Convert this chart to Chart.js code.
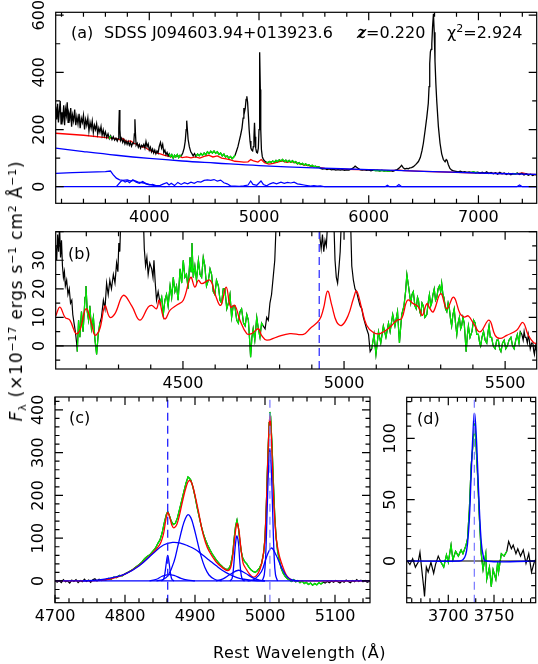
<!DOCTYPE html>
<html>
<head>
<meta charset="utf-8">
<script src="https://cdn.jsdelivr.net/npm/chart.js@4.4.1/dist/chart.umd.min.js"></script>
<style>
  body { margin: 0; background: #fff; }
  #wrap { position: relative; width: 538px; height: 664px; overflow: hidden; font-family: 'DejaVu Sans', sans-serif; }
  canvas { position: absolute; left: 0; top: 0; }
  .t { position: absolute; font-size: 16px; line-height: 16px; white-space: nowrap; color: #000; }
  .t sup { font-size: 11px; vertical-align: 6px; line-height: 0; }
  .t sub { font-size: 11px; vertical-align: -4px; line-height: 0; }
</style>
</head>
<body>
<div id="wrap">
  <canvas id="pa" width="538" height="664"></canvas>
  <canvas id="pb" width="538" height="664"></canvas>
  <canvas id="pc" width="538" height="664"></canvas>
  <canvas id="pd" width="538" height="664"></canvas>

  <div class="t" style="left:71px;top:25px;">(a)</div>
  <div class="t" style="left:104px;top:25px;">SDSS J094603.94+013923.6</div>
  <div class="t" style="left:357px;top:25px;"><b style="font-family:'DejaVu Serif';font-style:italic;">z</b>=0.220</div>
  <div class="t" style="left:447px;top:25px;">χ<sup>2</sup>=2.924</div>
  <div class="t" style="left:68px;top:246px;">(b)</div>
  <div class="t" style="left:69px;top:410px;">(c)</div>
  <div class="t" style="left:417px;top:411px;">(d)</div>
  <div class="t" style="left:16px;top:291px;font-size:17px;letter-spacing:0.8px;transform:translate(-50%,-50%) rotate(-90deg);"><i>F</i><sub>λ</sub> (×10<sup>−17</sup> ergs s<sup>−1</sup> cm<sup>2</sup> Å<sup>−1</sup>)</div>
  <div class="t" style="left:213px;top:645px;letter-spacing:0.5px;">Rest Wavelength (Å)</div>
</div>

<script>
// ---- panel (a) : full spectrum ----
const aBlack = [
  [3147,280],[3156,235],[3164,290],[3172,225],[3180,265],[3188,300],[3196,220],[3204,260],[3212,240],[3220,285],
  [3228,215],[3236,270],[3244,250],[3252,295],[3260,225],[3268,255],[3276,240],[3284,275],[3292,210],[3300,250],
  [3310,230],[3320,270],[3330,215],[3340,245],[3350,220],[3360,255],[3370,205],[3380,240],[3390,225],[3400,250],
  [3410,200],[3420,235],[3430,215],[3440,240],[3450,195],[3460,225],[3470,205],[3480,230],[3490,190],[3500,215],
  [3510,200],[3520,220],[3530,185],[3540,205],[3550,190],[3560,210],[3570,180],[3580,198],[3590,178],[3600,192],
  [3612,172],[3624,185],[3636,168],[3648,178],[3660,165],[3672,175],[3684,163],[3696,170],[3708,160],[3716,168],
  [3722,205],[3727,268],[3732,200],[3738,162],[3748,170],[3758,155],[3768,165],[3778,150],[3788,160],[3798,148],
  [3808,158],[3818,145],[3828,155],[3838,142],[3848,152],[3858,150],[3864,185],[3869,236],[3874,185],[3880,145],
  [3890,152],[3900,138],[3910,148],[3920,135],[3930,145],[3940,140],[3950,148],[3960,135],[3970,158],[3980,140],
  [3990,150],[4000,128],[4010,138],[4020,122],[4030,132],[4040,118],[4050,128],[4060,115],[4070,125],[4080,118],
  [4090,140],[4102,155],[4112,135],[4122,148],[4132,120],[4142,128],[4152,112],[4162,120],[4172,108],[4182,115],
  [4192,105],[4205,112],[4218,100],[4230,110],[4242,104],[4255,112],[4268,102],[4280,110],[4292,108],[4305,118],
  [4318,135],[4328,160],[4336,200],[4341,231],[4346,205],[4354,165],[4365,140],[4378,122],[4390,115],[4400,108],
  [4412,116],[4425,106],[4440,114],[4455,108],[4470,116],[4485,110],[4500,118],[4515,112],[4530,122],[4545,116],
  [4560,124],[4575,118],[4590,125],[4605,117],[4620,122],[4635,113],[4650,118],[4665,108],[4680,114],[4695,104],
  [4710,108],[4725,100],[4740,106],[4755,98],[4770,104],[4782,110],[4795,125],[4808,140],[4820,160],[4832,180],
  [4845,205],[4855,240],[4862,275],[4868,262],[4875,275],[4882,305],[4889,316],[4896,295],[4903,250],[4910,200],
  [4918,160],[4926,135],[4934,128],[4942,125],[4948,140],[4954,175],[4959,224],[4964,175],[4970,135],[4978,120],
  [4986,118],[4994,135],[5000,200],[5004,330],[5008,470],[5012,340],[5016,200],[5022,130],[5030,105],[5040,95],
  [5052,90],[5065,86],[5080,84],[5095,88],[5110,85],[5125,90],[5140,86],[5155,92],[5170,88],[5185,94],
  [5200,90],[5215,95],[5230,88],[5245,93],[5260,87],[5275,92],[5290,86],[5305,91],[5320,84],[5335,88],
  [5350,80],[5365,84],[5380,78],[5395,82],[5410,76],[5425,80],[5440,74],[5455,77],[5470,72],[5485,75],
  [5500,70],[5515,72],[5530,68],[5545,70],[5560,64],[5580,62],[5600,63],[5620,60],[5640,62],[5660,59],
  [5680,61],[5700,58],[5720,60],[5740,58],[5760,60],[5780,57],[5800,59],[5820,58],[5840,62],[5860,66],
  [5876,72],[5890,68],[5905,64],[5920,60],[5940,58],[5960,60],[5980,57],[6000,59],[6020,56],[6040,58],
  [6060,56],[6080,57],[6100,55],[6120,57],[6140,55],[6160,56],[6180,54],[6200,56],[6220,54],[6240,57],
  [6260,60],[6280,66],[6300,75],[6315,66],[6330,62],[6345,64],[6360,63],[6375,66],[6390,67],[6407,70],
  [6430,78],[6453,88],[6470,102],[6485,125],[6498,152],[6515,200],[6530,245],[6543,292],[6550,350],[6556,430],
  [6562,472],[6568,480],[6575,500],[6582,560],[6590,605],[6597,540],[6604,440],[6612,360],[6620,300],[6635,210],
  [6650,152],[6665,115],[6680,95],[6696,87],[6706,95],[6714,92],[6725,78],[6740,64],[6757,58],[6775,55],
  [6795,54],[6815,52],[6835,54],[6855,51],[6875,53],[6895,50],[6915,52],[6935,50],[6955,52],[6975,49],
  [6995,51],[7015,48],[7035,51],[7055,47],[7075,52],[7095,46],[7115,50],[7135,45],[7155,49],[7175,44],
  [7195,50],[7215,45],[7235,48],[7255,43],[7275,47],[7295,42],[7315,46],[7335,44],[7355,48],[7375,43],
  [7395,47],[7415,41],[7435,45],[7455,40],[7475,44],[7495,39],[7515,43],[7531,40]
];
const aGreenWin = [[3625,3655],[4175,4300],[4425,4790],[5060,5570],[6040,6200],[6920,7010],[7300,7370]];
const aModel = [
  [3147,187],[3400,180],[3650,170],[3700,168],[3740,163],[3760,168],[3790,158],[3830,160],[3860,152],[3890,148],
  [3920,140],[3960,138],[3990,130],[4020,125],[4060,118],[4100,115],[4140,110],[4180,106],[4220,104],[4260,108],
  [4300,102],[4340,104],[4380,101],[4420,104],[4460,100],[4500,106],[4540,110],[4580,104],[4620,108],[4660,100],
  [4700,97],[4740,94],[4780,89],[4820,88],[4860,86],[4900,87],[4925,95],[4950,90],[4990,86],[5020,95],
  [5050,84],[5090,79],[5130,82],[5170,86],[5210,90],[5250,85],[5290,88],[5330,84],[5370,80],[5410,76],
  [5450,74],[5500,70],[5550,68],[5600,64],[5800,61],[6000,59],[6200,56],[6280,58],[6320,56],[6500,54],
  [7000,48],[7350,45],[7400,48],[7450,44],[7531,42]
];
const aPowerLaw = [[3147,135],[3400,123],[3700,110],[4000,99],[4300,90],[4600,83],[5000,74],[5500,66],[6000,60],[6500,54],[7000,48],[7531,43]];
const aBalmer = [[3147,47],[3300,49],[3450,51],[3600,53],[3646,55],[3670,42],[3700,30],[3730,24],[3760,22],[3800,24],[3830,20],[3860,22],[3900,16],[3950,13],[4000,8],[4050,4],[4100,1],[4150,0]];
const aFeII = [
  [3700,0],[3740,18],[3760,22],[3780,16],[3800,20],[3820,14],[3850,24],[3880,16],[3910,12],[3940,18],
  [3970,10],[4000,6],[4030,8],[4060,4],[4100,5],[4130,10],[4160,14],[4180,6],[4200,12],[4230,4],
  [4260,15],[4290,8],[4320,14],[4350,10],[4380,16],[4410,12],[4440,18],[4470,16],[4500,22],[4530,24],
  [4560,22],[4590,25],[4620,20],[4650,23],[4680,14],[4710,10],[4740,3],[4780,2],[4820,1],[4860,3],
  [4900,6],[4924,20],[4945,8],[4980,5],[5018,20],[5040,8],[5070,3],[5100,10],[5130,14],[5160,10],
  [5200,16],[5230,12],[5260,15],[5290,13],[5320,16],[5350,10],[5380,8],[5410,6],[5440,4],[5470,2],
  [5500,4],[5530,2],[5560,3],[5600,0],[6150,0],[6170,5],[6190,0],[6250,0],[6275,8],[6300,0],
  [7350,0],[7375,6],[7400,0],[7531,0]
];
const aTicksX = [4000, 5000, 6000, 7000];
const aTicksY = [0, 200, 400, 600];

// ---- panel (b) : Fe II region ----
const bBlack = [
  [4105,35],[4108,30],[4111,39],[4114,33],[4117,42],[4120,31],[4123,37],[4126,28],[4129,24],[4132,26],
  [4135,21],[4139,23],[4143,18],[4147,20],[4151,15],[4155,16],[4158,11],[4162,8],[4166,5],[4170,1],
  [4172,-2],[4176,9],[4180,3],[4185,12],[4190,5],[4196,17],[4199,21],[4203,12],[4207,9],[4211,14],
  [4216,6],[4222,10],[4227,2],[4232,-3],[4237,4],[4242,8],[4247,10],[4253,16],[4258,13],[4263,22],
  [4268,18],[4273,23],[4278,20],[4284,25],[4289,22],[4294,29],[4298,26],[4301,36],[4304,33],[4307,45],
  [4312,70],[4340,90],[4372,70],[4377,45],[4380,34],[4384,28],[4388,31],[4392,25],[4397,29],[4403,27],
  [4407,24],[4410,30],[4414,22],[4418,16],[4423,19],[4429,15],[4434,17],[4439,11],[4444,16],[4449,18],
  [4454,14],[4460,21],[4465,17],[4470,24],[4475,19],[4480,21],[4485,16],[4491,27],[4496,22],[4501,30],
  [4506,24],[4511,25],[4516,20],[4522,31],[4525,26],[4528,36],[4532,24],[4537,28],[4542,23],[4548,30],
  [4553,25],[4558,24],[4563,31],[4568,28],[4573,21],[4579,23],[4584,27],[4589,25],[4594,19],[4599,18],
  [4604,23],[4610,21],[4615,16],[4620,15],[4625,20],[4630,20],[4636,13],[4641,15],[4646,18],[4651,10],
  [4656,14],[4661,14],[4667,9],[4672,8],[4677,12],[4682,13],[4688,8],[4693,7],[4698,11],[4703,9],
  [4707,2],[4710,-4],[4714,3],[4718,6],[4723,2],[4729,10],[4734,6],[4739,3],[4744,8],[4749,7],
  [4755,6],[4760,10],[4765,9],[4770,15],[4775,18],[4780,24],[4785,30],[4789,42],[4795,70],[4920,60],
  [4925,38],[4929,34],[4933,39],[4937,33],[4941,37],[4945,35],[4950,45],[4968,45],[4972,30],[4976,24],
  [4980,22],[4984,27],[4988,33],[4992,45],[5020,45],[5024,28],[5029,23],[5034,20],[5039,19],[5045,16],
  [5050,14],[5055,13],[5060,10],[5065,8],[5070,6],[5076,4],[5081,-2],[5086,-1],[5093,4],[5099,-3],
  [5107,5],[5114,1],[5122,7],[5130,3],[5138,8],[5143,5],[5151,11],[5158,7],[5166,12],[5172,1],
  [5179,11],[5186,14],[5191,19],[5195,25],[5200,21],[5207,15],[5211,18],[5215,19],[5220,14],[5224,13],
  [5228,17],[5231,16],[5235,12],[5238,11],[5242,15],[5246,14],[5251,10],[5257,11],[5261,15],[5265,18],
  [5269,14],[5272,15],[5276,18],[5280,20],[5284,16],[5288,17],[5292,20],[5296,21],[5300,19],[5303,22],
  [5307,18],[5310,17],[5315,13],[5319,12],[5323,15],[5327,13],[5331,9],[5334,7],[5338,11],[5342,13],
  [5346,8],[5350,4],[5354,8],[5358,10],[5362,6],[5365,7],[5369,10],[5373,8],[5376,3],[5379,-2],
  [5383,4],[5386,7],[5391,3],[5397,5],[5402,9],[5407,8],[5412,4],[5417,4],[5421,1],[5424,0],
  [5428,3],[5433,5],[5438,2],[5443,1],[5447,5],[5450,7],[5454,3],[5458,3],[5463,0],[5469,-1],
  [5474,2],[5479,2],[5483,-1],[5487,-2],[5492,1],[5497,2],[5502,-1],[5507,0],[5512,2],[5518,3],
  [5523,0],[5528,-1],[5533,2],[5538,4],[5543,1],[5547,5],[5552,4],[5556,2],[5559,5],[5562,3],
  [5565,3],[5569,1],[5572,4],[5575,2],[5578,-1],[5582,1],[5586,1],[5589,-2],[5591,-3],[5594,0],[5598,-2]
];
const bGreenWin = [[4172,4243],[4424,4752],[5083,5549]];
const bFeII = [
  [4105,10.5],[4118,13.6],[4134,10],[4149,9],[4168,4.3],[4180,5.5],[4199,13],[4216,7.8],[4227,3.7],[4242,6],
  [4258,14],[4273,10],[4289,11.3],[4315,17.7],[4341,14],[4366,9],[4392,13.6],[4403,14.2],[4418,13],[4426,16],
  [4439,10],[4446,9.5],[4460,12.5],[4480,14.2],[4501,16],[4524,24],[4537,20.6],[4548,23],[4558,21.8],[4584,23],
  [4599,18.3],[4617,14.2],[4634,20.6],[4648,13.6],[4661,14.2],[4677,9],[4698,4.3],[4713,4.3],[4734,6],[4744,3.7],
  [4760,2],[4791,3.1],[4832,4.3],[4874,4],[4894,6],[4923,9],[4936,13],[4949,19.2],[4962,14.2],[4977,8.4],
  [4993,7.2],[5013,10.7],[5029,16.5],[5039,19.2],[5055,13],[5070,7.2],[5091,4.7],[5112,4.3],[5143,6.6],[5164,9],
  [5179,9.6],[5197,16],[5215,14.8],[5231,13.6],[5243,10.7],[5257,14.8],[5267,13],[5277,11.9],[5300,18.3],[5319,13],
  [5340,17.1],[5360,11.3],[5373,10.1],[5386,10.5],[5402,7.8],[5422,4.9],[5450,9],[5469,3.7],[5484,2.6],[5505,3.7],
  [5536,5.5],[5555,8.2],[5572,3.7],[5588,1.2],[5598,0.8]
];
const bMarker = 4923;
const bTicksX = [4500, 5000, 5500];
const bTicksY = [0, 10, 20, 30];

// ---- panel (c) : H-beta + [O III] ----
const cData = [
  [4700,2],[4703,-3],[4706,1],[4709,-4],[4712,3],[4715,-2],[4718,0],[4721,-5],[4724,2],[4727,-1],
  [4730,3],[4733,-4],[4736,1],[4739,-2],[4742,4],[4745,-1],[4748,2],[4751,-3],[4754,3],[4757,5],
  [4760,0],[4763,4],[4766,1],[4769,3],[4772,2],[4776,6],[4780,4],[4784,9],[4788,8],[4792,13],
  [4796,12],[4800,17],[4804,20],[4808,24],[4812,28],[4816,33],[4820,38],[4824,44],[4828,52],[4832,58],
  [4836,62],[4840,70],[4844,78],[4847,88],[4850,96],[4853,112],[4856,135],[4859,155],[4861,162],[4863,155],
  [4866,140],[4869,132],[4872,135],[4875,148],[4878,168],[4881,188],[4884,208],[4887,228],[4890,243],[4892,240],
  [4894,236],[4897,220],[4900,198],[4903,172],[4906,150],[4909,128],[4912,110],[4915,96],[4918,84],[4921,74],
  [4925,62],[4930,50],[4935,40],[4940,32],[4944,27],[4948,28],[4951,38],[4954,65],[4956,100],[4958,128],
  [4960,142],[4962,125],[4964,95],[4966,70],[4968,55],[4971,45],[4974,40],[4977,32],[4980,26],[4983,22],
  [4986,20],[4989,24],[4992,30],[4995,40],[4998,65],[5000,100],[5002,180],[5004,290],[5006,370],[5007,395],
  [5008,385],[5010,320],[5012,230],[5014,150],[5016,100],[5018,70],[5020,52],[5023,30],[5026,18],[5029,10],
  [5032,5],[5035,2],[5038,-1],[5041,3],[5044,-2],[5047,1],[5050,-4],[5053,0],[5056,-6],[5059,-3],
  [5062,-8],[5065,-5],[5068,-10],[5071,-6],[5074,-9],[5077,-4],[5080,-7],[5083,-3],[5086,-5],[5089,-1],
  [5092,-4],[5095,0],[5098,-3],[5101,1],[5104,-2],[5107,-5],[5110,0],[5113,-3],[5116,2],[5119,-1],
  [5122,-4],[5125,1],[5128,-2],[5131,3],[5134,-1],[5137,2],[5140,-2],[5143,1],[5146,-3],[5150,0]
];
const cGreenWin = [[4770,5085]];
const cTotal = [
  [4700,0],[4760,1],[4780,5],[4800,16],[4820,36],[4840,66],[4850,86],[4855,110],[4858,140],[4861,160],
  [4864,148],[4867,130],[4870,124],[4874,132],[4878,155],[4882,185],[4886,212],[4890,232],[4893,235],[4896,226],
  [4900,200],[4905,162],[4910,120],[4915,90],[4920,70],[4930,45],[4940,30],[4947,24],[4951,32],[4954,60],
  [4957,105],[4960,135],[4963,115],[4966,70],[4969,40],[4973,28],[4978,16],[4983,9],[4988,13],[4993,28],
  [4997,55],[5000,100],[5003,230],[5005,330],[5007,385],[5009,340],[5011,250],[5013,170],[5016,100],[5020,62],
  [5025,35],[5030,15],[5035,5],[5040,1],[5050,0],[5150,0]
];
const cBroadHb = [[4740,0],[4760,2],[4780,7],[4800,16],[4820,35],[4840,64],[4855,84],[4868,90],[4880,88],[4890,82],[4900,74],[4910,62],[4920,49],[4930,36],[4940,24],[4950,15],[4960,8],[4970,4],[4985,1],[5000,0]];
const cInterHb = [[4845,0],[4855,4],[4862,14],[4870,45],[4876,85],[4882,125],[4886,145],[4890,155],[4894,148],[4898,128],[4903,95],[4908,62],[4914,32],[4920,14],[4928,4],[4938,0]];
const cNarrowHb = [[4852,0],[4855,4],[4857,18],[4859,42],[4861,60],[4863,42],[4865,18],[4867,4],[4870,0]];
const cWingHb = [[4835,0],[4845,4],[4853,11],[4862,15],[4870,13],[4880,6],[4890,2],[4900,0]];
const cNarrow4959 = [[4950,0],[4953,6],[4955,30],[4957,72],[4959,102],[4960,105],[4962,90],[4964,45],[4966,14],[4968,3],[4971,0]];
const cBroad4959 = [[4930,0],[4940,5],[4950,15],[4962,25],[4972,18],[4982,8],[4992,2],[5000,0]];
const cNarrow5007 = [[4996,0],[4999,15],[5001,60],[5003,160],[5005,260],[5007,310],[5009,260],[5011,160],[5013,60],[5015,15],[5018,0]];
const cBroad5007 = [[4975,0],[4985,4],[4995,22],[5002,55],[5009,77],[5016,60],[5024,30],[5032,9],[5040,2],[5048,0]];
const cMarkers = [4861, 5007];
const cTicksX = [4700, 4800, 4900, 5000, 5100];
const cTicksY = [0, 100, 200, 300, 400];

// ---- panel (d) : [O II] ----
const dData = [
  [3655,0],[3658,-3],[3661,2],[3664,-5],[3667,-1],[3669,7],[3671,-7],[3673,-21],[3674,-29],[3676,-5],
  [3678,-9],[3681,-1],[3684,-10],[3686,-3],[3689,4],[3692,-1],[3695,-5],[3698,5],[3700,-1],[3703,13],
  [3705,1],[3708,8],[3711,4],[3714,9],[3716,6],[3719,12],[3721,18],[3723,42],[3725,78],[3727,95],
  [3728.5,112],[3730,100],[3732,70],[3734,35],[3736,6],[3738,-7],[3741,6],[3742,-15],[3745,-5],[3747,-21],
  [3749,-7],[3752,-15],[3754,-1],[3755,-9],[3758,6],[3761,4],[3764,8],[3766,16],[3769,10],[3771,13],
  [3774,6],[3776,10],[3779,4],[3782,9],[3785,-2],[3788,6],[3791,-9],[3794,-1],[3796,2]
];
const dGreenWin = [[3690,3765]];
const dOII = [[3655,0],[3712,0],[3716,1],[3719,5],[3721,14],[3723,34],[3725,70],[3727,104],[3728.5,120],[3730,110],[3732,78],[3734,42],[3736,16],[3738,5],[3741,0],[3796,0]];
const dMarker = 3728.5;
const dTicksX = [3700, 3750];
const dTicksY = [0, 50, 100];

// ---------- helpers ----------
function xy(pairs) {
  return pairs.map(p => ({ x: p[0], y: p[1] }));
}

// points of a spectrum that fall inside the fitting windows, gaps elsewhere
function windowed(pairs, wins) {
  const out = [];
  let prevIn = false;
  pairs.forEach(p => {
    const inside = wins.some(w => p[0] >= w[0] && p[0] <= w[1]);
    if (inside) out.push({ x: p[0], y: p[1] });
    else if (prevIn) out.push({ x: p[0], y: null });
    prevIn = inside;
  });
  return out;
}

function line(data, color, width, order, extra) {
  return Object.assign({
    data, borderColor: color, borderWidth: width, pointRadius: 0,
    showLine: true, fill: false, tension: 0, spanGaps: false, order
  }, extra || {});
}

function vline(x, yr, color, order) {
  return line([{ x, y: yr[0] }, { x, y: yr[1] }], color, 1.3, order, { borderDash: [8, 5] });
}

// PGPLOT style box: frame, inward ticks on all sides, rotated y labels
function pgAxes(t) {
  return {
    id: 'pgAxes',
    afterDraw(chart) {
      const ctx = chart.ctx, a = chart.chartArea;
      const sx = chart.scales.x, sy = chart.scales.y;
      const steps = (sc, step) => {
        const r = [];
        for (let v = Math.ceil(sc.min / step) * step; v <= sc.max + 1e-9; v += step) r.push(Math.round(v * 1000) / 1000);
        return r;
      };
      const isMaj = (v, m) => Math.abs(v / m - Math.round(v / m)) < 1e-6;
      ctx.save();
      ctx.strokeStyle = '#000';
      ctx.lineWidth = 1.2;
      ctx.beginPath();
      steps(sx, t.xMinor).forEach(v => {
        const px = sx.getPixelForValue(v);
        const L = isMaj(v, t.xMajor) ? 8 : 4.5;
        ctx.moveTo(px, a.bottom); ctx.lineTo(px, a.bottom - L);
        ctx.moveTo(px, a.top); ctx.lineTo(px, a.top + L);
      });
      steps(sy, t.yMinor).forEach(v => {
        const py = sy.getPixelForValue(v);
        const L = isMaj(v, t.yMajor) ? 8 : 4.5;
        ctx.moveTo(a.left, py); ctx.lineTo(a.left + L, py);
        ctx.moveTo(a.right, py); ctx.lineTo(a.right - L, py);
      });
      ctx.stroke();
      ctx.strokeRect(a.left, a.top, a.right - a.left, a.bottom - a.top);

      ctx.fillStyle = '#000';
      ctx.font = '16px "DejaVu Sans"';
      ctx.textAlign = 'center';
      ctx.textBaseline = 'middle';
      t.xLabels.forEach(v => ctx.fillText(String(v), sx.getPixelForValue(v), a.bottom + 14.5));
      t.yLabels.forEach(v => {
        ctx.save();
        ctx.translate(a.left - 16, sy.getPixelForValue(v));
        ctx.rotate(-Math.PI / 2);
        ctx.fillText(String(v), 0, 0);
        ctx.restore();
      });
      ctx.restore();
    }
  };
}

function panel(id, box, xr, yr, ticks, datasets) {
  return new Chart(document.getElementById(id), {
    type: 'scatter',
    data: { datasets },
    options: {
      responsive: false,
      animation: false,
      events: [],
      layout: { padding: { left: box[0], top: box[1], right: 538 - box[2], bottom: 664 - box[3] } },
      scales: {
        x: { type: 'linear', display: false, min: xr[0], max: xr[1] },
        y: { type: 'linear', display: false, min: yr[0], max: yr[1] }
      },
      plugins: { legend: { display: false }, tooltip: { enabled: false } }
    },
    plugins: [pgAxes(ticks)]
  });
}

const BLUE = '#0000ff', RED = '#ff0000', GREEN = '#00ee00', BLACK = '#000000';

// (a)
const aX = [3147, 7531], aY = [-58, 610];
panel('pa', [55.7, 12.3, 536.7, 203.3], aX, aY,
  { xMajor: 1000, xMinor: 200, yMajor: 200, yMinor: 100, xLabels: aTicksX, yLabels: aTicksY },
  [
    line(xy([[aX[0], 0], [aX[1], 0]]), BLUE, 1.3, 1),
    line(xy(aPowerLaw), BLUE, 1.3, 1, { tension: 0.4 }),
    line(xy(aBalmer), BLUE, 1.3, 1),
    line(xy(aFeII), BLUE, 1.2, 1),
    line(windowed(aBlack, aGreenWin), GREEN, 1.3, 2),
    line(xy(aBlack), BLACK, 1.3, 3),
    line(xy(aModel), RED, 1.3, 4)
  ]);

// (b)
const bX = [4105, 5598], bY = [-8.1, 40];
panel('pb', [55.7, 231.7, 536.7, 369], bX, bY,
  { xMajor: 500, xMinor: 100, yMajor: 10, yMinor: 5, xLabels: bTicksX, yLabels: bTicksY },
  [
    vline(bMarker, bY, '#3333ff', 1),
    line(xy(bFeII), RED, 1.3, 2, { tension: 0.4 }),
    line(xy([[bX[0], 0], [bX[1], 0]]), BLACK, 1.2, 3),
    line(windowed(bBlack, bGreenWin), GREEN, 1.2, 4),
    line(xy(bBlack), BLACK, 1.2, 5)
  ]);

// (c)
const cX = [4700, 5150], cY = [-50.8, 430];
panel('pc', [55, 397, 370, 602.7], cX, cY,
  { xMajor: 100, xMinor: 20, yMajor: 100, yMinor: 20, xLabels: cTicksX, yLabels: cTicksY },
  [
    vline(cMarkers[0], cY, '#2020ff', 1),
    vline(cMarkers[1], cY, '#8080ff', 1),
    line(xy([[cX[0], 0], [cX[1], 0]]), BLUE, 1.3, 2),
    line(xy(cBroadHb), BLUE, 1.3, 2, { tension: 0.4 }),
    line(xy(cInterHb), BLUE, 1.3, 2, { tension: 0.4 }),
    line(xy(cNarrowHb), BLUE, 1.3, 2, { tension: 0.4 }),
    line(xy(cWingHb), BLUE, 1.3, 2, { tension: 0.4 }),
    line(xy(cNarrow4959), BLUE, 1.3, 2, { tension: 0.4 }),
    line(xy(cBroad4959), BLUE, 1.3, 2, { tension: 0.4 }),
    line(xy(cNarrow5007), BLUE, 1.3, 2, { tension: 0.4 }),
    line(xy(cBroad5007), BLUE, 1.3, 2, { tension: 0.4 }),
    line(xy(cTotal), RED, 1.3, 3, { tension: 0.3 }),
    line(windowed(cData, cGreenWin), GREEN, 1.3, 4),
    line(xy(cData), BLACK, 1.2, 5)
  ]);

// (d)
const dX = [3654.5, 3795.6], dY = [-34, 133.5];
panel('pd', [406.7, 397.3, 535.7, 602.7], dX, dY,
  { xMajor: 50, xMinor: 10, yMajor: 50, yMinor: 10, xLabels: dTicksX, yLabels: dTicksY },
  [
    vline(dMarker, dY, '#8080ff', 1),
    line(xy(dOII), BLUE, 1.4, 2, { tension: 0.4 }),
    line(xy([[dX[0], 0], [dX[1], 0]]), BLACK, 1.2, 3),
    line(windowed(dData, dGreenWin), GREEN, 1.2, 4),
    line(xy(dData), BLACK, 1.2, 5)
  ]);
</script>
</body>
</html>
